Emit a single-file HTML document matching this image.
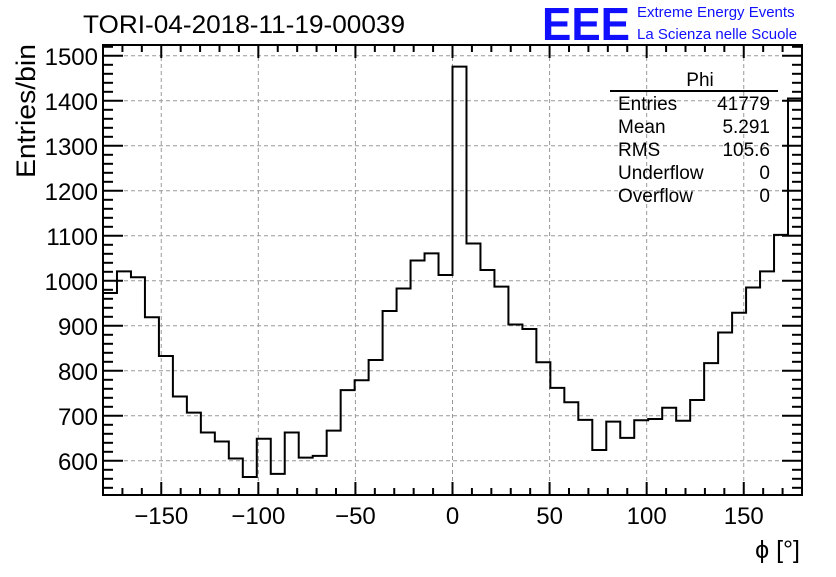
<!DOCTYPE html>
<html><head><meta charset="utf-8"><style>
body{margin:0;background:#fff;}
svg text{font-family:"Liberation Sans",sans-serif;}
</style></head><body>
<svg id="c" width="836" height="572" xmlns="http://www.w3.org/2000/svg">
<rect width="836" height="572" fill="#fff"/>
<text x="83" y="33" font-size="25" textLength="322" lengthAdjust="spacingAndGlyphs">TORI-04-2018-11-19-00039</text>
<text x="542" y="40" font-size="46" fill="#1010ff" font-weight="bold" textLength="88" lengthAdjust="spacingAndGlyphs">EEE</text>
<text x="637" y="17" font-size="15" fill="#1010ff">Extreme Energy Events</text>
<text x="637" y="39" font-size="15" fill="#1010ff">La Scienza nelle Scuole</text>
<text transform="translate(35,111) rotate(-90)" text-anchor="middle" font-size="27" textLength="134" lengthAdjust="spacingAndGlyphs">Entries/bin</text>
<text x="800" y="558" text-anchor="end" font-size="25">ϕ [°]</text>
<g id="grid"></g><g id="hist"></g><g id="axes"></g>
<g font-size="19">
<text x="700" y="86" text-anchor="middle">Phi</text>
<line x1="610" y1="91" x2="778" y2="91" stroke="#000" stroke-width="2"/>
<text x="618" y="110">Entries</text><text x="770" y="110" text-anchor="end">41779</text>
<text x="618" y="133">Mean</text><text x="770" y="133" text-anchor="end">5.291</text>
<text x="618" y="156">RMS</text><text x="770" y="156" text-anchor="end">105.6</text>
<text x="618" y="179">Underflow</text><text x="770" y="179" text-anchor="end">0</text>
<text x="618" y="202">Overflow</text><text x="770" y="202" text-anchor="end">0</text>
</g>
</svg>
<script>
const binEdgesStart = -180;
const binWidth = 7.2;
const counts = [973,1021,1008,919,833,743,707,663,643,605,564,649,571,663,607,611,667,757,779,824,933,983,1045,1061,1013,1476,1083,1024,987,903,893,819,762,730,691,624,687,651,690,693,718,689,735,817,885,929,985,1021,1102,1405];
const xTicks = [-150,-100,-50,0,50,100,150];
const yTicks = [600,700,800,900,1000,1100,1200,1300,1400,1500];
const X0=103,X1=802,Y0=495,Y1=45,xmin=-180,xmax=180,ymin=524,ymax=1524;
const NS="http://www.w3.org/2000/svg";
const sx=v=>X0+(v-xmin)/(xmax-xmin)*(X1-X0);
const sy=v=>Y0-(v-ymin)/(ymax-ymin)*(Y0-Y1);
function mk(t,a,p){const e=document.createElementNS(NS,t);for(const k in a)e.setAttribute(k,a[k]);p.appendChild(e);return e;}
const grid=document.getElementById('grid'),hist=document.getElementById('hist'),axes=document.getElementById('axes');
xTicks.forEach(v=>{const l=mk('line',{x1:sx(v),x2:sx(v),y1:Y0,y2:Y1,stroke:'#999','stroke-dasharray':'4,3'},grid);

});
yTicks.forEach(v=>{const l=mk('line',{x1:X0,x2:X1,y1:sy(v),y2:sy(v),stroke:'#999','stroke-dasharray':'4,3'},grid);

});
let d='M'+sx(xmin)+','+Y0;
counts.forEach((c,i)=>{const a=binEdgesStart+i*binWidth,b=a+binWidth;d+=' L'+sx(a)+','+sy(c)+' L'+sx(b)+','+sy(c);});
d+=' L'+sx(xmax)+','+Y0;
const p=mk('path',{d:d,fill:'none',stroke:'#000','stroke-width':2},hist);


const fr=mk('rect',{x:X0,y:Y1,width:X1-X0,height:Y0-Y1,fill:'none',stroke:'#000','stroke-width':2},axes);


for(let v=-180;v<=180;v+=10){const maj=v%50===0;const L=maj?13:7;
mk('line',{x1:sx(v),x2:sx(v),y1:Y0,y2:Y0-L,stroke:'#000','stroke-width':2},axes);
mk('line',{x1:sx(v),x2:sx(v),y1:Y1,y2:Y1+L,stroke:'#000','stroke-width':2},axes);}
for(let v=540;v<=1520;v+=20){const maj=v%100===0;const L=maj?20:10;
mk('line',{x1:X0,x2:X0+L,y1:sy(v),y2:sy(v),stroke:'#000','stroke-width':2},axes);
mk('line',{x1:X1,x2:X1-L,y1:sy(v),y2:sy(v),stroke:'#000','stroke-width':2},axes);}
xTicks.forEach(v=>{const t=mk('text',{x:sx(v),y:524,'text-anchor':'middle','font-size':24},axes);t.textContent=(v<0?'\u2212'+(-v):v);

});
yTicks.forEach(v=>{const t=mk('text',{x:98,y:sy(v)+9,'text-anchor':'end','font-size':24},axes);t.textContent=v;

});
</script>
</body></html>
